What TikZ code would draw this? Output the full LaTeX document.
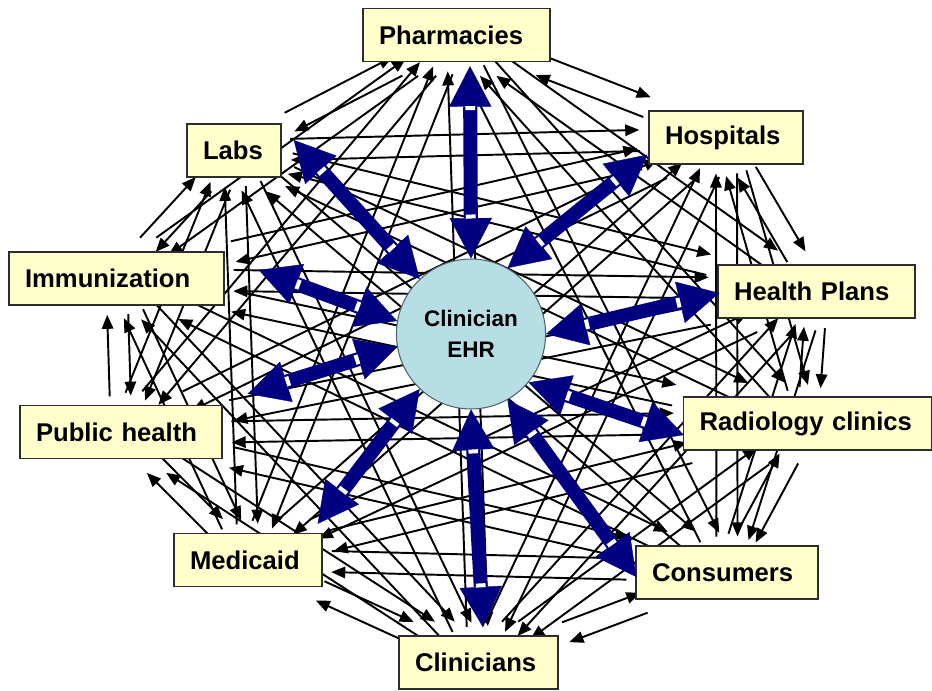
\documentclass[tikz,border=0pt]{standalone}
\usepackage{fontspec}
\setmainfont{Liberation Sans}
\usepackage{xcolor}
\usetikzlibrary{arrows.meta,calc,shapes.geometric}
\definecolor{boxfill}{RGB}{255,255,204}
\definecolor{boxborder}{RGB}{45,45,45}
\definecolor{ehrfill}{RGB}{183,222,228}
\definecolor{ehrborder}{RGB}{80,100,100}
\definecolor{hubblue}{RGB}{0,0,128}
\pgfdeclarelayer{links}
\pgfsetlayers{links,main}

\begin{document}
\begin{tikzpicture}[
    x=0.02cm, y=-0.02cm,
    >={Triangle[length=8pt, width=6.5pt]},
    party/.style={fill=boxfill, draw=boxborder, line width=0.8pt, align=left, inner xsep=0.32cm, minimum height=1.06cm, font=\fontsize{14.6}{17}\selectfont\bfseries},
    ehrnode/.style={ellipse, fill=ehrfill, draw=ehrborder, line width=0.6pt, minimum width=2.84cm, minimum height=3cm, align=center, font=\fontsize{12.8}{17.6}\selectfont\bfseries},
    link/.style={black, line width=1.1pt, ->, shorten >=5pt, shorten <=5pt},
    hub/.style={hubblue, line width=8pt, <->, >={Triangle[length=23pt, width=24pt, line width=0.2pt]}},
    hubmark/.style={white, line width=5.5pt}
]

% Frame
\useasboundingbox (0,0) rectangle (932,690);

% Clinician EHR in the middle
\node[ehrnode] (ehr) at (471,334) {Clinician\\EHR};

% Parties round it
\node[party, text width=3.10cm] (phar)  at (456.5,35)    {Pharmacies};
\node[party, text width=2.44cm] (hosp)  at (726,137.5)   {Hospitals};
\node[party, text width=1.24cm] (labs)  at (234,150.5)   {Labs};
\node[party, text width=3.66cm] (imm)   at (116.5,278.5) {Immunization};
\node[party, text width=3.30cm] (plans) at (816.5,291.5) {Health Plans};
\node[party, text width=3.40cm] (pub)   at (121,432)     {Public health};
\node[party, text width=4.32cm] (rad)   at (807.5,423.5) {Radiology clinics};
\node[party, text width=2.32cm] (med)   at (248,560)     {Medicaid};
\node[party, text width=3.00cm] (cons)  at (727,572.5)   {Consumers};
\node[party, text width=2.54cm] (clin)  at (478.5,662.5) {Clinicians};

% Point to point links, one each way for every pair
\begin{pgfonlayer}{links}
\foreach \src/\dst in {phar/hosp, phar/labs, phar/imm, phar/plans, phar/pub, phar/rad, phar/med, phar/cons, phar/clin,
    hosp/labs, hosp/imm, hosp/plans, hosp/pub, hosp/rad, hosp/med, hosp/cons, hosp/clin,
    labs/imm, labs/plans, labs/pub, labs/rad, labs/med, labs/cons, labs/clin,
    imm/plans, imm/pub, imm/rad, imm/med, imm/cons, imm/clin,
    plans/pub, plans/rad, plans/med, plans/cons, plans/clin,
    pub/rad, pub/med, pub/cons, pub/clin,
    rad/med, rad/cons, rad/clin,
    med/cons, med/clin,
    cons/clin} {
  \pgfpointanchor{\src}{center}\pgfgetlastxy{\xs}{\ys}
  \pgfpointanchor{\dst}{center}\pgfgetlastxy{\xd}{\yd}
  \pgfmathsetmacro{\dirsd}{atan2(\yd-\ys,\xd-\xs)}
  \pgfmathsetmacro{\dirds}{\dirsd+180}
  \draw[link] ($(\src.\dirsd)!6pt!90:(\dst)$) -- ($(\dst.\dirds)!6pt!-90:(\src)$);
  \draw[link] ($(\dst.\dirds)!6pt!90:(\src)$) -- ($(\src.\dirsd)!6pt!-90:(\dst)$);
}
\end{pgfonlayer}

% Hub arrows, box ends
\coordinate (phar-tip)  at ([shift={(13.5,4)}]phar.south);
\coordinate (hosp-tip)  at ([shift={(-1,-10)}]hosp.south west);
\coordinate (labs-tip)  at ([shift={(12,-10.5)}]labs.east);
\coordinate (imm-tip)   at ([shift={(34,-8.5)}]imm.east);
\coordinate (pub-tip)   at ([shift={(25,-11)}]pub.north east);
\coordinate (med-tip)   at ([shift={(-5,-9)}]med.north east);
\coordinate (clin-tip)  at ([shift={(4.5,-8)}]clin.north);
\coordinate (cons-tip)  at ([shift={(1,4.5)}]cons.west);
\coordinate (rad-tip)   at ([shift={(1,11.5)}]rad.west);
\coordinate (plans-tip) at ([shift={(2,1.5)}]plans.west);

% Hub arrows
\foreach \deg/\t in {90/phar, 61/hosp, 133/labs, 170/imm, 190/pub, 227/med, 270/clin, 299/cons, 320/rad, 0/plans} {
  \draw[hub] (ehr.\deg) -- (\t-tip);
  \draw[hubmark] ($(ehr.\deg)!0.8cm!(\t-tip)$) -- ($(ehr.\deg)!0.88cm!(\t-tip)$);
  \draw[hubmark] ($(\t-tip)!0.8cm!(ehr.\deg)$) -- ($(\t-tip)!0.88cm!(ehr.\deg)$);
}

\end{tikzpicture}
\end{document}
